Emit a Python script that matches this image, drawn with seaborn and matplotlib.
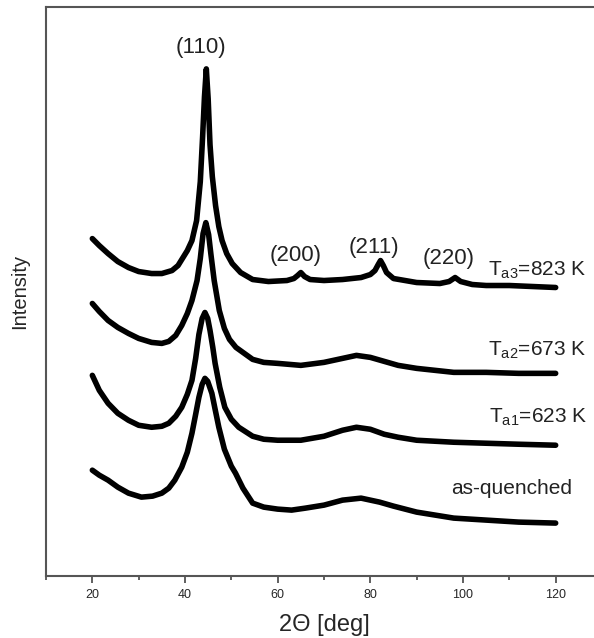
import numpy as np
import pandas as pd
import matplotlib
matplotlib.use("Agg")
import matplotlib.pyplot as plt
import seaborn as sns

# 2Theta positions and intensities (arbitrary units, offsets included)
tt_823 = [20, 21.5, 23.4, 25.5, 27.8, 30, 32.8, 35, 37.2, 38.5, 39.3, 40.5, 41.5, 42.5, 43.3,
          43.8, 44.2, 44.6, 45.0, 45.4, 45.9, 46.6, 47.3, 48, 49, 50.2, 52, 54.6, 58, 62,
          63.5, 64.3, 65, 65.8, 67, 70, 74, 78, 80, 81, 81.7, 82.2, 82.8, 83.5, 85, 90,
          95, 97, 98.3, 99.5, 102, 105, 110, 115, 120]
int_823 = [338, 331, 323, 315, 309, 305, 303, 303, 306, 311, 317, 326, 336, 356, 395,
           440, 480, 508, 478, 432, 400, 371, 350, 336, 323, 313, 304, 297, 295, 296,
           298, 301, 304, 300, 297, 296, 297, 299, 302, 306, 312, 316, 311, 304, 298, 294,
           293, 295, 299, 295, 292, 291, 291, 290, 289]

tt_673 = [20, 21.5, 23.4, 25.5, 27.8, 30, 32.8, 35, 36.5, 38, 39.3, 40.5, 41.5, 42.6, 43.3,
          43.9, 44.5, 45.1, 45.6, 46.3, 47.4, 48.5, 49.6, 51, 52.5, 54.6, 57, 60, 65, 70, 74,
          77, 80, 83, 86, 90, 94, 98, 105, 112, 120]
int_673 = [273, 265, 256, 249, 243, 238, 234, 233, 235, 241, 251, 263, 276, 296, 318,
           343, 354, 342, 322, 296, 266, 248, 237, 229, 224, 217, 214, 213, 211, 214, 218,
           221, 219, 215, 211, 208, 206, 204, 204, 203, 203]

tt_623 = [20, 21.5, 23.4, 25.5, 27.8, 30, 32.8, 35, 36.5, 38, 39.3, 40.5, 41.5, 42.3, 43,
          43.7, 44.3, 44.9, 45.4, 46.0, 46.5, 47.5, 48.6, 50, 51.6, 54.6, 57, 60, 65, 70,
          74, 77, 80, 83, 86, 90, 94, 98, 105, 112, 120]
int_623 = [201, 186, 173, 163, 156, 151, 149, 150, 153, 160, 169, 182, 196, 218, 242,
           258, 264, 258, 246, 229, 213, 189, 169, 157, 149, 140, 137, 136, 136, 140,
           146, 149, 147, 142, 139, 136, 135, 134, 133, 132, 131]

tt_asq = [20, 21.5, 23.4, 25.5, 27.8, 30.6, 33, 35, 36.5, 37.8, 39.3, 40.5, 41.5, 42.3, 43,
          43.7, 44.3, 44.9, 45.8, 46.5, 47.3, 48.5, 50, 50.9, 52.5, 54.6, 57, 60, 63, 66, 70,
          74, 78, 82, 85, 90, 94, 98, 105, 112, 120]
int_asq = [106, 101, 96, 89, 83, 79, 80, 83, 88, 96, 109, 124, 143, 162, 179,
           192, 198, 195, 183, 167, 149, 127, 110, 103, 88, 73, 69, 67, 66, 68, 71,
           76, 78, 74, 70, 64, 61, 58, 56, 54, 53]

# reflection labels
hkl_labels = ["(110)", "(200)", "(211)", "(220)"]
hkl_pos = [(43.5, 529), (63.9, 321), (80.8, 329), (96.8, 318)]

sample_labels = ["T$_{\\mathregular{a3}}$=823 K", "T$_{\\mathregular{a2}}$=673 K",
                 "T$_{\\mathregular{a1}}$=623 K", "as-quenched"]
sample_pos = [(105.5, 306), (105.3, 226), (105.6, 159), (97.5, 88)]

sns.set_style("ticks")
plt.rcParams['font.family'] = ['Liberation Sans', 'DejaVu Sans']
plt.rcParams['mathtext.fontset'] = 'custom'
plt.rcParams['mathtext.rm'] = 'Liberation Sans'

fig = plt.figure(figsize=(5.94, 6.38), dpi=100)
ax = fig.add_axes([46 / 594, 62 / 638, 556 / 594, 569 / 638])

curvas = [(tt_823, int_823), (tt_673, int_673), (tt_623, int_623), (tt_asq, int_asq)]
for tt, inten in curvas:
    df = pd.DataFrame({'tt': tt, 'I': inten})
    sns.lineplot(data=df, x='tt', y='I', color='black', lw=4, ax=ax, sort=False)

ax.set_xlim(10, 130)
ax.set_ylim(0, 570)
ax.set_xticks([20, 40, 60, 80, 100, 120])
ax.set_xticks([10, 30, 50, 70, 90, 110, 130], minor=True)
ax.set_yticks([])
ax.tick_params(axis='x', which='major', length=5, width=1.2, labelsize=9, pad=4, color='#444444')
ax.tick_params(axis='x', which='minor', length=3, width=1.2, color='#444444')
for sp in ax.spines.values():
    sp.set_color('#555555')
    sp.set_linewidth(1.5)

ax.set_xlabel('2Θ [deg]', fontsize=17, labelpad=10)
ax.set_ylabel('Intensity', fontsize=14.5, labelpad=12)

for txt, (x, y) in zip(hkl_labels, hkl_pos):
    ax.text(x, y, txt, ha='center', va='center', fontsize=16, color='#222222')
for txt, (x, y) in zip(sample_labels, sample_pos):
    ax.text(x, y, txt, ha='left', va='center', fontsize=15, color='#222222', clip_on=False)

plt.savefig('out.png', dpi=100)
plt.close()
